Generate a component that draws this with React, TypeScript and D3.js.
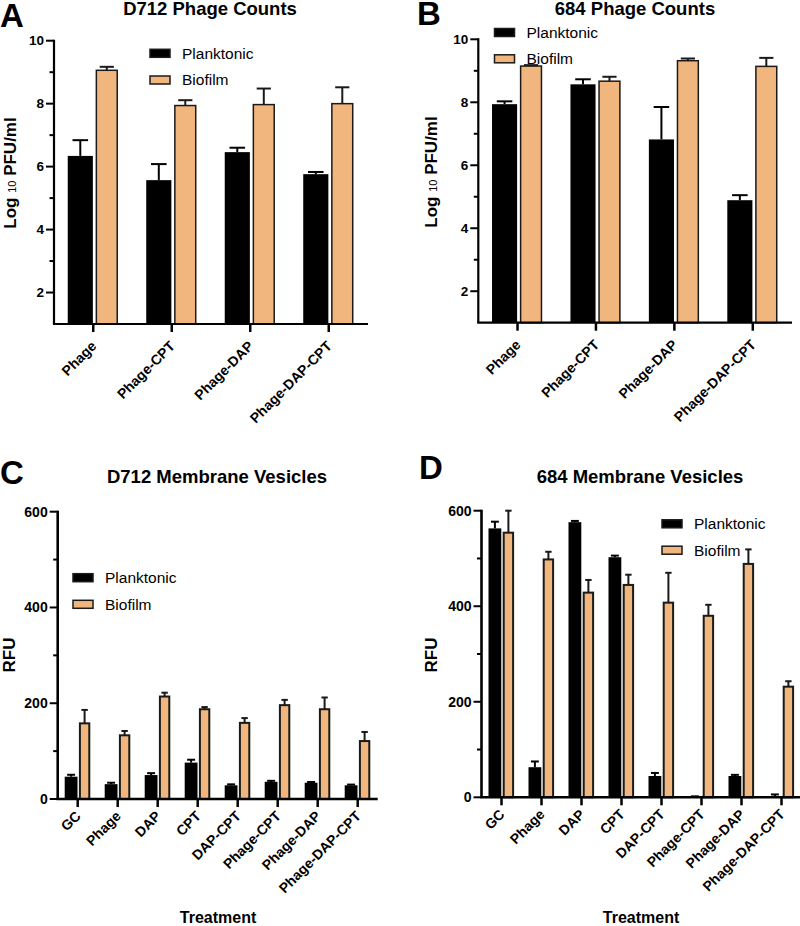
import React from "react";
import * as d3 from "d3";

// ---------- DATA ----------
const phageCats = ["Phage", "Phage-CPT", "Phage-DAP", "Phage-DAP-CPT"];
const mvCats = ["GC", "Phage", "DAP", "CPT", "DAP-CPT", "Phage-CPT", "Phage-DAP", "Phage-DAP-CPT"];
const seriesNames = ["Planktonic", "Biofilm"];

const d712PhagePlank = [6.34, 5.57, 6.46, 5.76];
const d712PhagePlankErr = [0.5, 0.51, 0.14, 0.07];
const d712PhageBio = [9.06, 7.94, 7.97, 8.0];
const d712PhageBioErr = [0.11, 0.17, 0.51, 0.52];

const p684PhagePlank = [7.94, 8.57, 6.82, 4.89];
const p684PhagePlankErr = [0.09, 0.16, 1.03, 0.16];
const p684PhageBio = [9.15, 8.67, 9.32, 9.14];
const p684PhageBioErr = [0.03, 0.14, 0.07, 0.27];

const d712MvPlank = [46.6, 31, 50, 76, 28.6, 36, 34, 28.6];
const d712MvPlankErr = [4, 3, 4, 6, 2, 2, 1.5, 1.5];
const d712MvBio = [158, 133, 214, 187.5, 159, 196, 187.5, 121];
const d712MvBioErr = [28, 9, 8, 4.5, 10, 11, 24.5, 19];

const p684MvPlank = [563, 63, 576, 502.6, 44.6, 1, 44.6, 1];
const p684MvPlankErr = [14, 12, 2.6, 3.4, 6.4, 1, 2.4, 5];
const p684MvBio = [554, 498, 428.5, 444.6, 407.5, 380, 488.6, 231.6];
const p684MvBioErr = [46, 16, 26.5, 21.4, 62.5, 23, 30.4, 11.4];

// ---------- STYLE ----------
const FONT = "Arial, 'Liberation Sans', Helvetica, sans-serif";
const ORANGE = "#F1B67E";
const DARK = "#1a1a1a";

type Cfg = {
  letter: string;
  letterX: number;
  letterY: number;
  title: string;
  titleX: number;
  titleY: number;
  axisX: number;
  yTop: number;
  yBottom: number;
  xRight: number;
  domain: [number, number];
  majorCount: number;
  minorCount: number;
  yLabel: "log" | "rfu";
  yLabelX: number;
  yLabelY: number;
  legendX: number;
  legendY: number;
  legendGap: number;
  xLabelDy: number;
  xTitle?: { x: number; y: number };
  sw: number;
  axisW: number;
  tickFont: number;
};

function Panel({ cfg, cats, plank, plankErr, bio, bioErr }: {
  cfg: Cfg; cats: string[]; plank: number[]; plankErr: number[]; bio: number[]; bioErr: number[];
}) {
  const x = d3.scaleBand().domain(cats).range([cfg.axisX, cfg.xRight]).paddingInner(0).paddingOuter(0);
  const y = d3.scaleLinear().domain(cfg.domain).range([cfg.yBottom, cfg.yTop]);
  const s = x.step();
  const majors = y.ticks(cfg.majorCount);
  const minors = y.ticks(cfg.minorCount).filter((t) => !majors.includes(t) && t > cfg.domain[0]);
  const pw = 0.32 * s;
  const bw = 0.285 * s - cfg.sw;
  const capP = pw * 0.62;
  const capB = bw * 0.68;

  return (
    <g>
      <text x={cfg.letterX} y={cfg.letterY} fontFamily={FONT} fontWeight="bold" fontSize={33}>{cfg.letter}</text>
      <text x={cfg.titleX} y={cfg.titleY} textAnchor="middle" fontFamily={FONT} fontWeight="bold" fontSize={18.5}>{cfg.title}</text>

      {/* bars */}
      {cats.map((c, i) => {
        const cx = (x(c) as number) + s / 2;
        const px0 = cx - 0.325 * s;
        const bx0 = cx + 0.03 * s + cfg.sw / 2;
        const pTop = y(plank[i]);
        const bTop = y(bio[i]);
        const pe = y(plank[i] + plankErr[i]);
        const be = y(bio[i] + bioErr[i]);
        const pc = px0 + pw / 2;
        const bc = bx0 + bw / 2;
        return (
          <g key={c}>
            <line x1={pc} x2={pc} y1={pTop} y2={pe} stroke="#000" strokeWidth={2} />
            <line x1={pc - capP / 2} x2={pc + capP / 2} y1={pe} y2={pe} stroke="#000" strokeWidth={2} />
            <rect x={px0} y={pTop} width={pw} height={cfg.yBottom - pTop} fill="#000" />
            <line x1={bc} x2={bc} y1={bTop} y2={be} stroke={DARK} strokeWidth={2} />
            <line x1={bc - capB / 2} x2={bc + capB / 2} y1={be} y2={be} stroke={DARK} strokeWidth={2} />
            <rect x={bx0} y={bTop} width={bw} height={cfg.yBottom - bTop} fill={ORANGE} stroke={DARK} strokeWidth={cfg.sw} />
          </g>
        );
      })}

      {/* y axis */}
      <line x1={cfg.axisX} x2={cfg.axisX} y1={cfg.yTop - 1} y2={cfg.yBottom} stroke="#000" strokeWidth={cfg.axisW} />
      {majors.map((t) => (
        <g key={"M" + t}>
          <line x1={cfg.axisX - 8} x2={cfg.axisX} y1={y(t)} y2={y(t)} stroke="#000" strokeWidth={2} />
          <text x={cfg.axisX - 10} y={y(t)} dy="0.35em" textAnchor="end" fontFamily={FONT} fontWeight="bold" fontSize={cfg.tickFont}>{t}</text>
        </g>
      ))}
      {minors.map((t) => (
        <line key={"m" + t} x1={cfg.axisX - 4.5} x2={cfg.axisX} y1={y(t)} y2={y(t)} stroke="#000" strokeWidth={2} />
      ))}

      {/* x axis */}
      <line x1={cfg.axisX - cfg.axisW / 2} x2={cfg.xRight} y1={cfg.yBottom} y2={cfg.yBottom} stroke="#000" strokeWidth={cfg.axisW} />
      {cats.map((c) => {
        const cx = (x(c) as number) + s / 2;
        return (
          <g key={"x" + c}>
            <line x1={cx} x2={cx} y1={cfg.yBottom} y2={cfg.yBottom + 8} stroke="#000" strokeWidth={2.5} />
            <text transform={`translate(${cx + 4},${cfg.yBottom + cfg.xLabelDy}) rotate(-45)`} textAnchor="end"
              fontFamily={FONT} fontWeight="bold" fontSize={14}>{c}</text>
          </g>
        );
      })}

      {/* y label */}
      <text transform={`translate(${cfg.yLabelX},${cfg.yLabelY}) rotate(-90)`} textAnchor="middle" fontFamily={FONT} fontWeight="bold" fontSize={17}>
        {cfg.yLabel === "log" ? (
          <>
            <tspan>Log </tspan>
            <tspan fontSize={11} fontWeight="normal">10</tspan>
            <tspan> PFU/ml</tspan>
          </>
        ) : (
          "RFU"
        )}
      </text>

      {cfg.xTitle && (
        <text x={cfg.xTitle.x} y={cfg.xTitle.y} textAnchor="middle" fontFamily={FONT} fontWeight="bold" fontSize={16}>Treatment</text>
      )}

      {/* legend */}
      {seriesNames.map((n, i) => (
        <g key={n} transform={`translate(${cfg.legendX},${cfg.legendY + i * cfg.legendGap})`}>
          <rect x={0} y={-4} width={20} height={8} fill={i === 0 ? "#000" : ORANGE} stroke={DARK} strokeWidth={1.5} />
          <text x={32} y={0} dy="0.35em" fontFamily={FONT} fontSize={15.5}>{n}</text>
        </g>
      ))}
    </g>
  );
}

const cfgA: Cfg = {
  letter: "A", letterX: 0, letterY: 26.5, title: "D712 Phage Counts", titleX: 210, titleY: 15,
  axisX: 54, yTop: 40.7, yBottom: 324, xRight: 368, domain: [1, 10], majorCount: 5, minorCount: 10,
  yLabel: "log", yLabelX: 15.5, yLabelY: 173, legendX: 150, legendY: 53.3, legendGap: 26.7, xLabelDy: 23,
  sw: 1.5, axisW: 2.2, tickFont: 13.5,
};
const cfgB: Cfg = {
  letter: "B", letterX: 417, letterY: 25, title: "684 Phage Counts", titleX: 635, titleY: 14.5,
  axisX: 478.3, yTop: 39.3, yBottom: 322.7, xRight: 792, domain: [1, 10], majorCount: 5, minorCount: 10,
  yLabel: "log", yLabelX: 437, yLabelY: 172, legendX: 494.5, legendY: 32.5, legendGap: 26.3, xLabelDy: 23,
  sw: 1.5, axisW: 2.2, tickFont: 13.5,
};
const cfgC: Cfg = {
  letter: "C", letterX: 0, letterY: 483.5, title: "D712 Membrane Vesicles", titleX: 217, titleY: 483.3,
  axisX: 57.7, yTop: 511.7, yBottom: 799, xRight: 377.7, domain: [0, 600], majorCount: 4, minorCount: 8,
  yLabel: "rfu", yLabelX: 14.5, yLabelY: 655, legendX: 73, legendY: 577.7, legendGap: 26.6, xLabelDy: 18,
  xTitle: { x: 218, y: 923 }, sw: 2, axisW: 2.6, tickFont: 14,
};
const cfgD: Cfg = {
  letter: "D", letterX: 419, letterY: 478.5, title: "684 Membrane Vesicles", titleX: 640, titleY: 483.3,
  axisX: 481.5, yTop: 510.7, yBottom: 797.3, xRight: 801.5, domain: [0, 600], majorCount: 4, minorCount: 8,
  yLabel: "rfu", yLabelX: 437, yLabelY: 655, legendX: 662, legendY: 523.8, legendGap: 26.4, xLabelDy: 18,
  xTitle: { x: 641, y: 922.5 }, sw: 2, axisW: 2.6, tickFont: 14,
};

export default function App() {
  return (
    <svg width={800} height={926} style={{ position: "absolute", left: 0, top: 0, background: "#fff" }}>
      <rect width={800} height={926} fill="#fff" />
      <Panel cfg={cfgA} cats={phageCats} plank={d712PhagePlank} plankErr={d712PhagePlankErr} bio={d712PhageBio} bioErr={d712PhageBioErr} />
      <Panel cfg={cfgB} cats={phageCats} plank={p684PhagePlank} plankErr={p684PhagePlankErr} bio={p684PhageBio} bioErr={p684PhageBioErr} />
      <Panel cfg={cfgC} cats={mvCats} plank={d712MvPlank} plankErr={d712MvPlankErr} bio={d712MvBio} bioErr={d712MvBioErr} />
      <Panel cfg={cfgD} cats={mvCats} plank={p684MvPlank} plankErr={p684MvPlankErr} bio={p684MvBio} bioErr={p684MvBioErr} />
    </svg>
  );
}
